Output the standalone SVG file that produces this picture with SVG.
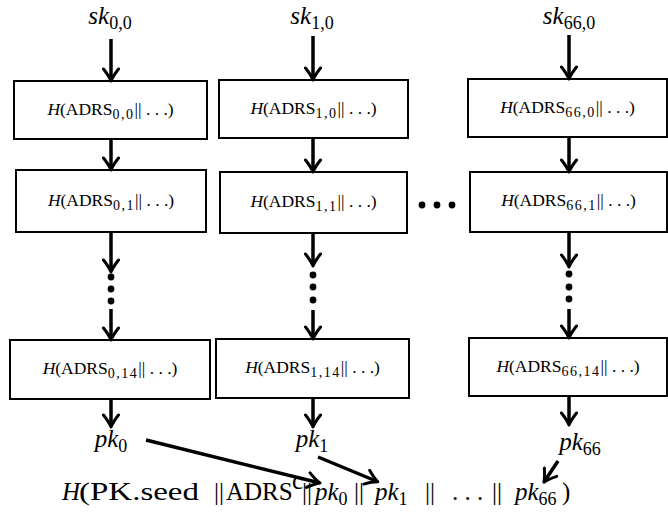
<svg xmlns="http://www.w3.org/2000/svg" width="668" height="516" viewBox="0 0 668 516">
<style>
.box{fill:#fff;stroke:#000;stroke-width:2}
.lbl{font-family:"Liberation Serif","Times New Roman",serif;font-size:17.5px;fill:#000}
.sub{font-size:14px;letter-spacing:1.5px}
.math{font-family:"Liberation Serif","Times New Roman",serif;font-size:25px;fill:#000}
.ms{font-size:18px}
.it{font-style:italic}
.conn line{stroke:#000;stroke-width:3.5}
.dot{fill:#000}
</style>
<defs>
<marker id="ah" viewBox="-14 -9 16 18" refX="-2" refY="0" markerWidth="16" markerHeight="18" markerUnits="userSpaceOnUse" orient="auto">
<path d="M-12,-7.5 Q-5,-2 0,0 Q-5,2 -12,7.5" fill="none" stroke="#000" stroke-width="3" stroke-linecap="round" stroke-linejoin="round"/>
</marker>
</defs>
<rect width="668" height="516" fill="#fff"/>

<g id="sk00"><text class="math" x="110" y="24" text-anchor="middle"><tspan class="it">sk</tspan><tspan class="ms" dy="5">0,0</tspan></text></g>
<g id="sk10"><text class="math" x="312" y="24" text-anchor="middle"><tspan class="it">sk</tspan><tspan class="ms" dy="5">1,0</tspan></text></g>
<g id="sk660"><text class="math" x="569" y="24" text-anchor="middle"><tspan class="it">sk</tspan><tspan class="ms" dy="5">66,0</tspan></text></g>

<g id="h00"><rect class="box" x="14" y="81" width="193" height="58"/><text class="lbl" x="110.5" y="115" text-anchor="middle"><tspan class="it">H</tspan>(ADRS<tspan class="sub" dy="4">0,0</tspan><tspan dy="-4">|| . . .)</tspan></text></g>
<g id="h10"><rect class="box" x="219" y="80" width="189" height="58"/><text class="lbl" x="313.5" y="114" text-anchor="middle"><tspan class="it">H</tspan>(ADRS<tspan class="sub" dy="4">1,0</tspan><tspan dy="-4">|| . . .)</tspan></text></g>
<g id="h660"><rect class="box" x="468" y="79" width="199" height="58"/><text class="lbl" x="567.5" y="113" text-anchor="middle"><tspan class="it">H</tspan>(ADRS<tspan class="sub" dy="4">66,0</tspan><tspan dy="-4">|| . . .)</tspan></text></g>

<g id="h01"><rect class="box" x="16" y="170" width="190" height="62"/><text class="lbl" x="111" y="206" text-anchor="middle"><tspan class="it">H</tspan>(ADRS<tspan class="sub" dy="4">0,1</tspan><tspan dy="-4">|| . . .)</tspan></text></g>
<g id="h11"><rect class="box" x="220" y="172" width="187" height="61"/><text class="lbl" x="313.5" y="207" text-anchor="middle"><tspan class="it">H</tspan>(ADRS<tspan class="sub" dy="4">1,1</tspan><tspan dy="-4">|| . . .)</tspan></text></g>
<g id="h661"><rect class="box" x="470" y="172" width="197" height="60"/><text class="lbl" x="568.5" y="206" text-anchor="middle"><tspan class="it">H</tspan>(ADRS<tspan class="sub" dy="4">66,1</tspan><tspan dy="-4">|| . . .)</tspan></text></g>

<g id="h014"><rect class="box" x="10" y="340" width="200" height="59"/><text class="lbl" x="110" y="374" text-anchor="middle"><tspan class="it">H</tspan>(ADRS<tspan class="sub" dy="4">0,14</tspan><tspan dy="-4">|| . . .)</tspan></text></g>
<g id="h114"><rect class="box" x="216" y="339" width="193" height="59"/><text class="lbl" x="312.5" y="373" text-anchor="middle"><tspan class="it">H</tspan>(ADRS<tspan class="sub" dy="4">1,14</tspan><tspan dy="-4">|| . . .)</tspan></text></g>
<g id="h6614"><rect class="box" x="469" y="338" width="198" height="58"/><text class="lbl" x="568" y="372" text-anchor="middle"><tspan class="it">H</tspan>(ADRS<tspan class="sub" dy="4">66,14</tspan><tspan dy="-4">|| . . .)</tspan></text></g>

<g id="pk0"><text class="math" x="111" y="447" text-anchor="middle"><tspan class="it">pk</tspan><tspan class="ms" dy="5">0</tspan></text></g>
<g id="pk1"><text class="math" x="312" y="447" text-anchor="middle"><tspan class="it">pk</tspan><tspan class="ms" dy="5">1</tspan></text></g>
<g id="pk66"><text class="math" x="580" y="450" text-anchor="middle"><tspan class="it">pk</tspan><tspan class="ms" dy="5">66</tspan></text></g>

<g id="formula">
<text class="math" x="62" y="500" font-style="italic">H</text>
<text class="math" x="79" y="500" font-size="27" textLength="120" lengthAdjust="spacingAndGlyphs">(PK.seed</text>
<text class="math" x="214" y="500">||</text>
<text class="math" x="226" y="500" font-size="24">ADRS</text>
<text class="math" x="292" y="489" font-size="14">c</text>
<text class="math" x="302" y="500">||</text>
<text class="math" x="315" y="500"><tspan class="it">pk</tspan><tspan class="ms" dy="5">0</tspan></text>
<text class="math" x="354" y="500">||</text>
<text class="math" x="375" y="500"><tspan class="it">pk</tspan><tspan class="ms" dy="5">1</tspan></text>
<text class="math" x="425" y="500">||</text>
<text class="math" x="452" y="500">. . .</text>
<text class="math" x="492" y="500">||</text>
<text class="math" x="515" y="500"><tspan class="it">pk</tspan><tspan class="ms" dy="5">66</tspan></text>
<text class="math" x="562" y="500">)</text>
</g>

<g id="connectors" class="conn">
<line x1="111" y1="39" x2="111" y2="79" marker-end="url(#ah)"/>
<line x1="313" y1="36" x2="313" y2="78" marker-end="url(#ah)"/>
<line x1="569" y1="35" x2="569" y2="77" marker-end="url(#ah)"/>
<line x1="111" y1="139" x2="111" y2="168" marker-end="url(#ah)"/>
<line x1="313" y1="138" x2="313" y2="170" marker-end="url(#ah)"/>
<line x1="569" y1="137" x2="569" y2="170" marker-end="url(#ah)"/>
<line x1="111" y1="232" x2="111" y2="270" marker-end="url(#ah)"/>
<line x1="313" y1="233" x2="313" y2="264" marker-end="url(#ah)"/>
<line x1="569" y1="232" x2="569" y2="265" marker-end="url(#ah)"/>
<line x1="111" y1="309" x2="111" y2="338" marker-end="url(#ah)"/>
<line x1="313" y1="310" x2="313" y2="337" marker-end="url(#ah)"/>
<line x1="569" y1="309" x2="569" y2="336" marker-end="url(#ah)"/>
<line x1="111" y1="399" x2="111" y2="425" marker-end="url(#ah)"/>
<line x1="313" y1="398" x2="313" y2="425" marker-end="url(#ah)"/>
<line x1="569" y1="396" x2="569" y2="423" marker-end="url(#ah)"/>
<line x1="146" y1="440" x2="318" y2="482.5" marker-end="url(#ah)"/>
<line x1="318" y1="457" x2="376" y2="481" marker-end="url(#ah)"/>
<line x1="558" y1="461" x2="545" y2="480.5" marker-end="url(#ah)"/>
</g>

<g id="dots">
<circle class="dot" cx="111" cy="277" r="3.4"/><circle class="dot" cx="111" cy="289" r="3.4"/><circle class="dot" cx="111" cy="301" r="3.4"/>
<circle class="dot" cx="313" cy="275" r="3.4"/><circle class="dot" cx="313" cy="287" r="3.4"/><circle class="dot" cx="313" cy="300" r="3.4"/>
<circle class="dot" cx="569" cy="274" r="3.4"/><circle class="dot" cx="569" cy="287" r="3.4"/><circle class="dot" cx="569" cy="299" r="3.4"/>
<circle class="dot" cx="422" cy="205" r="3.4"/><circle class="dot" cx="437" cy="205" r="3.4"/><circle class="dot" cx="452" cy="205" r="3.4"/>
</g>
</svg>
